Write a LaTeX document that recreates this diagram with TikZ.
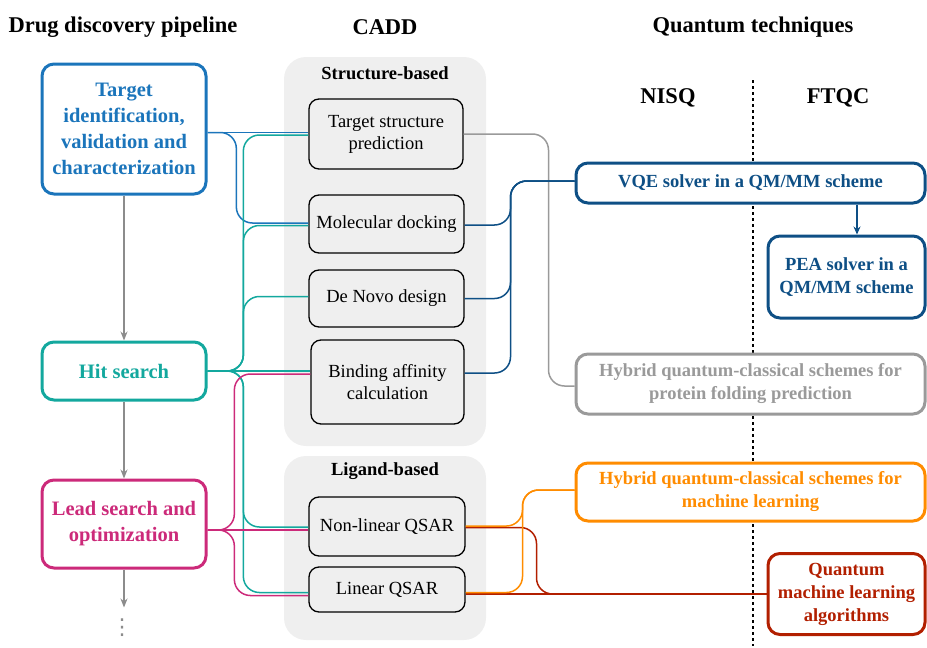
\documentclass[tikz,border=0pt]{standalone}
\usepackage{fontspec}
\setmainfont{Liberation Serif}
\newfontfamily\dotsfont{DejaVu Sans}
\usetikzlibrary{arrows.meta,calc}

\definecolor{tidblue}{HTML}{1B75BB}
\definecolor{hitteal}{HTML}{13A89E}
\definecolor{leadpink}{HTML}{CC2A7A}
\definecolor{vqeblue}{HTML}{0E4F85}
\definecolor{foldgray}{HTML}{9A9A9A}
\definecolor{mlorange}{HTML}{FF8C00}
\definecolor{qmlred}{HTML}{B21F00}
\definecolor{panel}{HTML}{EFEFEF}
\definecolor{flowgray}{HTML}{8C8C8C}

\tikzset{
  head/.style={font=\fontsize{22.5}{26}\selectfont\bfseries},
  subhead/.style={font=\fontsize{18.5}{22}\selectfont\bfseries},
  stage/.style={draw=#1, text=#1, fill=white, line width=3pt, rounded corners=12pt,
    align=center, font=\fontsize{20.5}{26}\selectfont\bfseries, inner sep=0pt},
  cadd/.style={draw=black, fill=panel, line width=1.3pt, rounded corners=10pt,
    align=center, font=\fontsize{18.5}{22}\selectfont, inner sep=0pt},
  quant/.style={draw=#1, text=#1, fill=white, line width=3pt, rounded corners=12pt,
    align=center, font=\fontsize{18.5}{23}\selectfont\bfseries, inner sep=0pt},
  link/.style={draw=#1, line width=1.5pt, rounded corners=16pt},
  flow/.style={draw=flowgray, line width=1.5pt, -{Stealth[length=9pt,width=7pt]}}
}

\begin{document}
\begin{tikzpicture}[x=1pt,y=-1pt]
\useasboundingbox (0,0) rectangle (927,648);

%%% column titles
\node[head] (tpipe) at (123,27) {Drug discovery pipeline};
\node[head] (tcadd) at (385,27) {CADD};
\node[head] (tquant) at (753,27) {Quantum techniques};
\node[head] (tnisq) at (668,98) {NISQ};
\node[head] (tftqc) at (838,98) {FTQC};
\draw[line width=1.5pt, dash pattern=on 3pt off 3pt] (753,80) -- (753,646);

%%% grey panels behind the CADD methods
\fill[panel, rounded corners=22pt] (284,57) rectangle (486,446);
\fill[panel, rounded corners=22pt] (284,456) rectangle (486,640);
\node[subhead] (tsb) at (385,73) {Structure-based};
\node[subhead] (tlb) at (385,471) {Ligand-based};

%%% pipeline stages
\node[stage=tidblue, minimum width=164, minimum height=130] (tid) at (124,129)
  {Target\\identification,\\validation and\\characterization};
\node[stage=hitteal, minimum width=164, minimum height=58] (hit) at (124,371) {Hit search};
\node[stage=leadpink, minimum width=164, minimum height=88] (lead) at (124,524)
  {Lead search and\\optimization};
\node[text=flowgray, font=\dotsfont\fontsize{22}{22}\selectfont, inner sep=0pt] (more) at (122,628) {⋮};
\draw[flow] (tid.south) -- (hit.north);
\draw[flow] (hit.south) -- (lead.north);
\draw[flow] (lead.south) -- ($(lead.south)+(0,38)$);

%%% CADD methods
\node[cadd, minimum width=154, minimum height=70] (tsp) at (386,134) {Target structure\\prediction};
\node[cadd, minimum width=155, minimum height=58] (mdk) at (386.5,224) {Molecular docking};
\node[cadd, minimum width=155, minimum height=57] (dnd) at (386.5,298.5) {De Novo design};
\node[cadd, minimum width=153, minimum height=84] (bac) at (387.5,382) {Binding affinity\\calculation};
\node[cadd, minimum width=156, minimum height=59] (nlq) at (387,526.5) {Non-linear QSAR};
\node[cadd, minimum width=156, minimum height=45] (lin) at (387,589.5) {Linear QSAR};

%%% quantum techniques
\node[quant=vqeblue, minimum width=349, minimum height=40] (vqe) at (750.5,183)
  {VQE solver in a QM/MM scheme};
\node[quant=vqeblue, minimum width=157, minimum height=82] (pea) at (846.5,277)
  {PEA solver in a\\QM/MM scheme};
\node[quant=foldgray, minimum width=349, minimum height=60] (hpf) at (750.5,384)
  {Hybrid quantum-classical schemes for\\protein folding prediction};
\node[quant=mlorange, minimum width=349, minimum height=58] (hml) at (750.5,492)
  {Hybrid quantum-classical schemes for\\machine learning};
\node[quant=qmlred, minimum width=157, minimum height=81] (qml) at (846.5,594)
  {Quantum\\machine learning\\algorithms};
\draw[vqeblue, line width=1.5pt, -{Stealth[length=8pt,width=7pt]}] ($(vqe.south)+(106.5,0)$) -- ($(pea.north)+(10.5,0)$);

%%% stages -> CADD
\draw[link=tidblue] ($(tid.east |- tsp.west)+(0,-1.5)$) -- ($(tsp.west)+(0,-1.5)$);
\draw[link=tidblue] ($(tid.east |- tsp.west)+(0,-1.5)$) -| ($(mdk.west)+(-72,-1)$) -- ($(mdk.west)+(0,-1)$);
\draw[link=hitteal] (hit.east) -- (hit.east -| bac.west);
\draw[link=hitteal] (hit.east) -| ($(tsp.west)+(-65,1)$) -- ($(tsp.west)+(0,1)$);
\draw[link=hitteal] (hit.east) -| ($(mdk.west)+(-65,1.5)$) -- ($(mdk.west)+(0,1.5)$);
\draw[link=hitteal] (hit.east) -| ($(dnd.west)+(-65,-2)$) -- ($(dnd.west)+(0,-2)$);
\draw[link=hitteal] (hit.east) -| ($(nlq.west)+(-65,0.5)$) -- ($(nlq.west)+(0,0.5)$);
\draw[link=hitteal] (hit.east) -| ($(lin.west)+(-65,3)$) -- ($(lin.west)+(0,3)$);
\draw[link=leadpink] ($(lead.east)+(0,6)$) -- ($(nlq.west)+(0,3.5)$);
\draw[link=leadpink] ($(lead.east)+(0,6)$) -| ($(bac.west)+(-76,-8)$) -- ($(bac.west)+(0,-8)$);
\draw[link=leadpink] ($(lead.east)+(0,6)$) -| ($(lin.west)+(-74,6)$) -- ($(lin.west)+(0,6)$);

%%% CADD -> quantum techniques
\draw[link=foldgray] (tsp.east) -| ($(hpf.west)+(-26,2)$) -- ($(hpf.west)+(0,2)$);
\draw[link=vqeblue] ($(mdk.east)+(0,1)$) -| ($(vqe.west)+(-64,-2)$) -- ($(vqe.west)+(0,-2)$);
\draw[link=vqeblue] (dnd.east) -| ($(vqe.west)+(-64,-2)$) -- ($(vqe.west)+(0,-2)$);
\draw[link=vqeblue] ($(bac.east)+(0,-9)$) -| ($(vqe.west)+(-64,-2)$) -- ($(vqe.west)+(0,-2)$);
\draw[link=qmlred] ($(lin.east)+(0,4.5)$) -- (qml.west);
\draw[link=qmlred] ($(nlq.east)+(0,1)$) -| ($(qml.west)+(-230,0)$) -- (qml.west);
\draw[link=mlorange] ($(nlq.east)+(0,-0.5)$) -| ($(hml.west)+(-52,-2)$) -- ($(hml.west)+(0,-2)$);
\draw[link=mlorange] ($(lin.east)+(0,3)$) -| ($(hml.west)+(-52,-2)$) -- ($(hml.west)+(0,-2)$);
\end{tikzpicture}
\end{document}
